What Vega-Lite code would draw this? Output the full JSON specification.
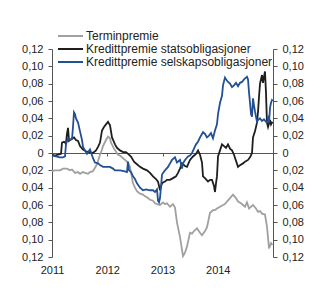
{
  "$schema": "https://vega.github.io/schema/vega-lite/v6.json",
  "width": 221,
  "height": 208,
  "autosize": "none",
  "padding": {"left": 52, "top": 49, "right": 50, "bottom": 43},
  "background": "white",
  "config": {
    "view": {"stroke": null},
    "font": "Liberation Sans",
    "axis": {"labelFont": "Liberation Sans", "labelFontSize": 11, "labelColor": "#222", "domainColor": "#555", "tickColor": "#555", "grid": false, "title": null},
    "legend": {"labelFont": "Liberation Sans"}
  },
  "datasets": {
    "gray": [
      {"t": 2011.000, "v": -0.021}, {"t": 2011.054, "v": -0.020}, {"t": 2011.145, "v": -0.020}, {"t": 2011.199, "v": -0.018},
      {"t": 2011.271, "v": -0.018}, {"t": 2011.326, "v": -0.020}, {"t": 2011.362, "v": -0.019}, {"t": 2011.416, "v": -0.023},
      {"t": 2011.471, "v": -0.022}, {"t": 2011.507, "v": -0.024}, {"t": 2011.561, "v": -0.022}, {"t": 2011.597, "v": -0.023},
      {"t": 2011.652, "v": -0.024}, {"t": 2011.688, "v": -0.022}, {"t": 2011.742, "v": -0.021}, {"t": 2011.778, "v": -0.017},
      {"t": 2011.814, "v": -0.013}, {"t": 2011.869, "v": -0.002}, {"t": 2011.905, "v": 0.004}, {"t": 2011.923, "v": 0.008},
      {"t": 2011.977, "v": 0.015}, {"t": 2012.014, "v": 0.019}, {"t": 2012.050, "v": 0.017}, {"t": 2012.068, "v": 0.012},
      {"t": 2012.122, "v": 0.005}, {"t": 2012.195, "v": -0.002}, {"t": 2012.231, "v": -0.003}, {"t": 2012.267, "v": -0.005},
      {"t": 2012.357, "v": -0.010}, {"t": 2012.412, "v": -0.016}, {"t": 2012.466, "v": -0.035}, {"t": 2012.502, "v": -0.040},
      {"t": 2012.538, "v": -0.044}, {"t": 2012.593, "v": -0.047}, {"t": 2012.647, "v": -0.048}, {"t": 2012.683, "v": -0.050},
      {"t": 2012.719, "v": -0.051}, {"t": 2012.774, "v": -0.054}, {"t": 2012.828, "v": -0.055}, {"t": 2012.864, "v": -0.058},
      {"t": 2012.900, "v": -0.059}, {"t": 2012.955, "v": -0.060}, {"t": 2013.009, "v": -0.057}, {"t": 2013.045, "v": -0.059},
      {"t": 2013.081, "v": -0.058}, {"t": 2013.136, "v": -0.062}, {"t": 2013.190, "v": -0.059}, {"t": 2013.226, "v": -0.063},
      {"t": 2013.262, "v": -0.080}, {"t": 2013.317, "v": -0.097}, {"t": 2013.371, "v": -0.119}, {"t": 2013.407, "v": -0.115},
      {"t": 2013.443, "v": -0.108}, {"t": 2013.498, "v": -0.092}, {"t": 2013.534, "v": -0.093}, {"t": 2013.570, "v": -0.090},
      {"t": 2013.624, "v": -0.087}, {"t": 2013.679, "v": -0.092}, {"t": 2013.715, "v": -0.095}, {"t": 2013.769, "v": -0.090},
      {"t": 2013.805, "v": -0.086}, {"t": 2013.860, "v": -0.069}, {"t": 2013.914, "v": -0.066}, {"t": 2013.950, "v": -0.066},
      {"t": 2013.986, "v": -0.064}, {"t": 2014.041, "v": -0.062}, {"t": 2014.095, "v": -0.060}, {"t": 2014.131, "v": -0.059},
      {"t": 2014.167, "v": -0.056}, {"t": 2014.222, "v": -0.052}, {"t": 2014.276, "v": -0.048}, {"t": 2014.330, "v": -0.052},
      {"t": 2014.367, "v": -0.056}, {"t": 2014.421, "v": -0.058}, {"t": 2014.457, "v": -0.060}, {"t": 2014.493, "v": -0.062},
      {"t": 2014.529, "v": -0.057}, {"t": 2014.566, "v": -0.064}, {"t": 2014.638, "v": -0.060}, {"t": 2014.692, "v": -0.064},
      {"t": 2014.729, "v": -0.068}, {"t": 2014.765, "v": -0.067}, {"t": 2014.801, "v": -0.070}, {"t": 2014.855, "v": -0.071},
      {"t": 2014.891, "v": -0.085}, {"t": 2014.928, "v": -0.110}, {"t": 2014.964, "v": -0.104}, {"t": 2014.990, "v": -0.106}
    ],
    "black": [
      {"t": 2011.000, "v": -0.002}, {"t": 2011.054, "v": -0.003}, {"t": 2011.109, "v": -0.002}, {"t": 2011.163, "v": -0.001},
      {"t": 2011.181, "v": 0.012}, {"t": 2011.217, "v": 0.013}, {"t": 2011.253, "v": 0.011}, {"t": 2011.271, "v": 0.022},
      {"t": 2011.290, "v": 0.029}, {"t": 2011.308, "v": 0.014}, {"t": 2011.344, "v": 0.016}, {"t": 2011.398, "v": 0.018},
      {"t": 2011.434, "v": 0.015}, {"t": 2011.471, "v": 0.014}, {"t": 2011.507, "v": 0.008}, {"t": 2011.561, "v": 0.004},
      {"t": 2011.615, "v": 0.002}, {"t": 2011.670, "v": 0.001}, {"t": 2011.742, "v": 0.000}, {"t": 2011.796, "v": 0.003},
      {"t": 2011.833, "v": 0.007}, {"t": 2011.869, "v": 0.012}, {"t": 2011.905, "v": 0.026}, {"t": 2011.941, "v": 0.030},
      {"t": 2011.977, "v": 0.033}, {"t": 2012.014, "v": 0.036}, {"t": 2012.050, "v": 0.032}, {"t": 2012.086, "v": 0.018},
      {"t": 2012.140, "v": 0.010}, {"t": 2012.176, "v": 0.006}, {"t": 2012.231, "v": 0.003}, {"t": 2012.285, "v": 0.001},
      {"t": 2012.339, "v": 0.001}, {"t": 2012.376, "v": -0.001}, {"t": 2012.430, "v": -0.004}, {"t": 2012.484, "v": -0.010},
      {"t": 2012.538, "v": -0.013}, {"t": 2012.593, "v": -0.016}, {"t": 2012.647, "v": -0.018}, {"t": 2012.719, "v": -0.020},
      {"t": 2012.774, "v": -0.023}, {"t": 2012.828, "v": -0.027}, {"t": 2012.882, "v": -0.030}, {"t": 2012.919, "v": -0.033},
      {"t": 2012.955, "v": -0.043}, {"t": 2012.991, "v": -0.035}, {"t": 2013.009, "v": -0.034}, {"t": 2013.045, "v": -0.033},
      {"t": 2013.081, "v": -0.031}, {"t": 2013.136, "v": -0.031}, {"t": 2013.190, "v": -0.029}, {"t": 2013.244, "v": -0.027},
      {"t": 2013.281, "v": -0.023}, {"t": 2013.317, "v": -0.018}, {"t": 2013.353, "v": -0.012}, {"t": 2013.407, "v": -0.015},
      {"t": 2013.443, "v": -0.016}, {"t": 2013.498, "v": -0.008}, {"t": 2013.552, "v": -0.004}, {"t": 2013.606, "v": -0.001},
      {"t": 2013.643, "v": 0.003}, {"t": 2013.679, "v": -0.002}, {"t": 2013.715, "v": -0.011}, {"t": 2013.733, "v": -0.027},
      {"t": 2013.769, "v": -0.029}, {"t": 2013.824, "v": -0.033}, {"t": 2013.860, "v": -0.031}, {"t": 2013.896, "v": -0.031},
      {"t": 2013.932, "v": -0.038}, {"t": 2013.950, "v": -0.045}, {"t": 2013.968, "v": -0.035}, {"t": 2013.986, "v": -0.027},
      {"t": 2014.005, "v": -0.004}, {"t": 2014.041, "v": 0.003}, {"t": 2014.077, "v": 0.010}, {"t": 2014.113, "v": 0.008},
      {"t": 2014.149, "v": 0.006}, {"t": 2014.186, "v": 0.010}, {"t": 2014.222, "v": 0.005}, {"t": 2014.258, "v": 0.003},
      {"t": 2014.294, "v": -0.002}, {"t": 2014.330, "v": -0.009}, {"t": 2014.367, "v": -0.016}, {"t": 2014.403, "v": -0.014},
      {"t": 2014.457, "v": -0.012}, {"t": 2014.493, "v": -0.010}, {"t": 2014.548, "v": -0.008}, {"t": 2014.584, "v": -0.005},
      {"t": 2014.620, "v": 0.000}, {"t": 2014.638, "v": 0.018}, {"t": 2014.674, "v": 0.025}, {"t": 2014.710, "v": 0.035},
      {"t": 2014.729, "v": 0.048}, {"t": 2014.747, "v": 0.065}, {"t": 2014.765, "v": 0.080}, {"t": 2014.801, "v": 0.090},
      {"t": 2014.819, "v": 0.081}, {"t": 2014.837, "v": 0.088}, {"t": 2014.855, "v": 0.094}, {"t": 2014.873, "v": 0.070},
      {"t": 2014.891, "v": 0.035}, {"t": 2014.910, "v": 0.030}, {"t": 2014.946, "v": 0.038}, {"t": 2014.964, "v": 0.033},
      {"t": 2014.990, "v": 0.036}
    ],
    "blue": [
      {"t": 2011.000, "v": -0.003}, {"t": 2011.072, "v": -0.004}, {"t": 2011.145, "v": -0.005}, {"t": 2011.199, "v": -0.005},
      {"t": 2011.235, "v": -0.004}, {"t": 2011.253, "v": 0.010}, {"t": 2011.290, "v": 0.017}, {"t": 2011.326, "v": 0.015},
      {"t": 2011.362, "v": 0.016}, {"t": 2011.380, "v": 0.030}, {"t": 2011.398, "v": 0.047}, {"t": 2011.416, "v": 0.045},
      {"t": 2011.434, "v": 0.040}, {"t": 2011.471, "v": 0.035}, {"t": 2011.507, "v": 0.025}, {"t": 2011.543, "v": 0.015},
      {"t": 2011.561, "v": 0.007}, {"t": 2011.597, "v": 0.003}, {"t": 2011.633, "v": -0.001}, {"t": 2011.688, "v": 0.004},
      {"t": 2011.742, "v": -0.006}, {"t": 2011.778, "v": -0.011}, {"t": 2011.833, "v": -0.012}, {"t": 2011.869, "v": -0.014},
      {"t": 2011.923, "v": -0.016}, {"t": 2011.995, "v": -0.016}, {"t": 2012.050, "v": -0.016}, {"t": 2012.104, "v": -0.018},
      {"t": 2012.140, "v": -0.020}, {"t": 2012.195, "v": -0.020}, {"t": 2012.231, "v": -0.020}, {"t": 2012.303, "v": -0.021},
      {"t": 2012.357, "v": -0.022}, {"t": 2012.376, "v": -0.010}, {"t": 2012.394, "v": -0.020}, {"t": 2012.430, "v": -0.022},
      {"t": 2012.466, "v": -0.027}, {"t": 2012.502, "v": -0.030}, {"t": 2012.538, "v": -0.035}, {"t": 2012.593, "v": -0.040},
      {"t": 2012.647, "v": -0.043}, {"t": 2012.701, "v": -0.042}, {"t": 2012.774, "v": -0.043}, {"t": 2012.828, "v": -0.043},
      {"t": 2012.864, "v": -0.045}, {"t": 2012.900, "v": -0.042}, {"t": 2012.919, "v": -0.055}, {"t": 2012.937, "v": -0.057},
      {"t": 2012.955, "v": -0.052}, {"t": 2012.991, "v": -0.025}, {"t": 2013.009, "v": -0.023}, {"t": 2013.045, "v": -0.020},
      {"t": 2013.100, "v": -0.016}, {"t": 2013.136, "v": -0.012}, {"t": 2013.172, "v": -0.008}, {"t": 2013.226, "v": -0.005},
      {"t": 2013.262, "v": -0.011}, {"t": 2013.317, "v": -0.008}, {"t": 2013.353, "v": -0.018}, {"t": 2013.371, "v": -0.012},
      {"t": 2013.407, "v": -0.008}, {"t": 2013.462, "v": -0.004}, {"t": 2013.498, "v": -0.003}, {"t": 2013.534, "v": 0.000},
      {"t": 2013.570, "v": 0.005}, {"t": 2013.606, "v": 0.010}, {"t": 2013.643, "v": 0.013}, {"t": 2013.679, "v": 0.018},
      {"t": 2013.733, "v": 0.024}, {"t": 2013.769, "v": 0.022}, {"t": 2013.805, "v": 0.018}, {"t": 2013.842, "v": 0.020},
      {"t": 2013.878, "v": 0.023}, {"t": 2013.914, "v": 0.017}, {"t": 2013.950, "v": 0.026}, {"t": 2013.986, "v": 0.033},
      {"t": 2014.005, "v": 0.045}, {"t": 2014.041, "v": 0.058}, {"t": 2014.077, "v": 0.066}, {"t": 2014.095, "v": 0.078},
      {"t": 2014.131, "v": 0.087}, {"t": 2014.149, "v": 0.085}, {"t": 2014.186, "v": 0.082}, {"t": 2014.222, "v": 0.080},
      {"t": 2014.258, "v": 0.076}, {"t": 2014.294, "v": 0.078}, {"t": 2014.330, "v": 0.081}, {"t": 2014.367, "v": 0.077},
      {"t": 2014.403, "v": 0.081}, {"t": 2014.439, "v": 0.082}, {"t": 2014.475, "v": 0.085}, {"t": 2014.511, "v": 0.087},
      {"t": 2014.529, "v": 0.088}, {"t": 2014.548, "v": 0.085}, {"t": 2014.566, "v": 0.070}, {"t": 2014.584, "v": 0.058},
      {"t": 2014.602, "v": 0.045}, {"t": 2014.620, "v": 0.042}, {"t": 2014.638, "v": 0.063}, {"t": 2014.656, "v": 0.055},
      {"t": 2014.674, "v": 0.048}, {"t": 2014.710, "v": 0.036}, {"t": 2014.729, "v": 0.038}, {"t": 2014.765, "v": 0.040},
      {"t": 2014.801, "v": 0.037}, {"t": 2014.837, "v": 0.039}, {"t": 2014.873, "v": 0.036}, {"t": 2014.891, "v": 0.036},
      {"t": 2014.910, "v": 0.040}, {"t": 2014.928, "v": 0.035}, {"t": 2014.946, "v": 0.052}, {"t": 2014.964, "v": 0.058},
      {"t": 2014.982, "v": 0.061}, {"t": 2014.995, "v": 0.060}
    ]
  },
  "layer": [
    {
      "data": {"name": "gray"},
      "mark": {"type": "line", "strokeWidth": 1.8},
      "encoding": {
        "x": {"field": "t", "type": "quantitative", "scale": {"domain": [2011, 2015], "nice": false, "zero": false},
              "axis": {"orient": "bottom", "values": [2011, 2012, 2013, 2014], "format": "d", "domain": false, "ticks": false, "labelPadding": 7, "labelFlush": false, "labelAlign": "center"}},
        "y": {"field": "v", "type": "quantitative", "scale": {"domain": [-0.12, 0.12], "nice": false},
              "axis": {"orient": "left", "values": [-0.12, -0.1, -0.08, -0.06, -0.04, -0.02, 0, 0.02, 0.04, 0.06, 0.08, 0.1, 0.12], "labelExpr": "abs(datum.value) < 0.001 ? '0' : replace(format(abs(datum.value), '.2f'), '.', ',')", "tickSize": 4, "labelPadding": 5, "labelFlush": false}},
        "color": {"datum": "Terminpremie", "type": "nominal",
                  "scale": {"domain": ["Terminpremie", "Kredittpremie statsobligasjoner", "Kredittpremie selskapsobligasjoner"], "range": ["#a0a0a0", "#1e1e1e", "#234f93"]},
                  "legend": {"orient": "none", "legendX": 5, "legendY": -19.5, "title": null, "symbolType": "stroke", "symbolSize": 625, "symbolStrokeWidth": 2, "clipHeight": 13, "rowPadding": 0, "labelFontSize": 12, "labelColor": "#222", "labelOffset": 2, "labelLimit": 0, "padding": 0}}
      }
    },
    {
      "data": {"name": "black"},
      "mark": {"type": "line", "strokeWidth": 1.8},
      "encoding": {
        "x": {"field": "t", "type": "quantitative", "axis": null},
        "y": {"field": "v", "type": "quantitative", "axis": null},
        "color": {"datum": "Kredittpremie statsobligasjoner", "type": "nominal"}
      }
    },
    {
      "data": {"name": "blue"},
      "mark": {"type": "line", "strokeWidth": 1.8},
      "encoding": {
        "x": {"field": "t", "type": "quantitative",
              "axis": {"orient": "bottom", "offset": -104, "values": [2011, 2012, 2013, 2014, 2015], "labels": false, "tickSize": 3, "domain": true}},
        "y": {"field": "v", "type": "quantitative",
              "axis": {"orient": "right", "values": [-0.12, -0.1, -0.08, -0.06, -0.04, -0.02, 0, 0.02, 0.04, 0.06, 0.08, 0.1, 0.12], "labelExpr": "abs(datum.value) < 0.001 ? '0' : replace(format(abs(datum.value), '.2f'), '.', ',')", "tickSize": 4, "labelPadding": 5, "labelFlush": false}},
        "color": {"datum": "Kredittpremie selskapsobligasjoner", "type": "nominal"}
      }
    }
  ],
  "resolve": {"axis": {"x": "independent", "y": "independent"}}
}
